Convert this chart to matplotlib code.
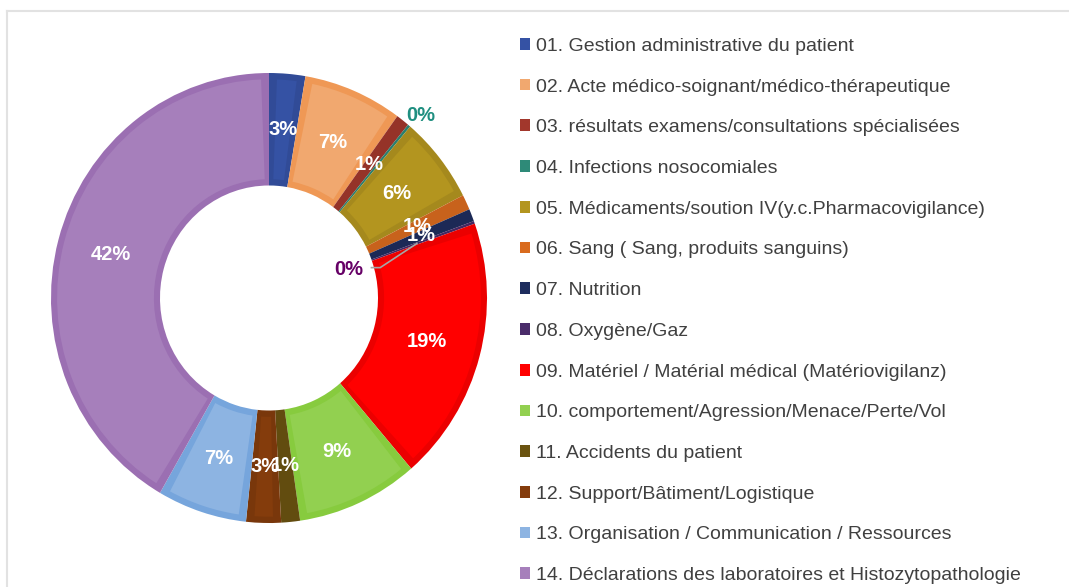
"""Donut chart: distribution of incident declarations by category."""

import colorsys

import matplotlib
matplotlib.use("Agg")
import matplotlib.pyplot as plt
from matplotlib.lines import Line2D
from matplotlib.patches import Patch, Wedge
import numpy as np

plt.rcParams["font.family"] = ["Liberation Sans", "DejaVu Sans"]

categories = [
    "01. Gestion administrative du patient",
    "02. Acte médico-soignant/médico-thérapeutique",
    "03. résultats examens/consultations spécialisées",
    "04. Infections nosocomiales",
    "05. Médicaments/soution IV(y.c.Pharmacovigilance)",
    "06. Sang ( Sang, produits sanguins)",
    "07. Nutrition",
    "08. Oxygène/Gaz",
    "09. Matériel / Matérial médical (Matériovigilanz)",
    "10. comportement/Agression/Menace/Perte/Vol",
    "11. Accidents du patient",
    "12. Support/Bâtiment/Logistique",
    "13. Organisation / Communication / Ressources",
    "14. Déclarations des laboratoires et Histozytopathologie",
]
shares = [2.7, 7.4, 1.0, 0.2, 6.3, 1.1, 0.9, 0.2, 19.2, 9.1, 1.4, 2.6, 6.7, 42.0]
colors = ["#3552A4", "#F1A86F", "#A2372C", "#2E8A78", "#B3951F", "#D96B1E",
          "#1E2D5E", "#4A2C6A", "#FF0000", "#92D050", "#6A5310", "#843C0C",
          "#8DB4E2", "#A67FBB"]


def darker(c, f=0.92):
    r, g, b = matplotlib.colors.to_rgb(c)
    h, l, s = colorsys.rgb_to_hls(r, g, b)
    return colorsys.hls_to_rgb(h, l * f, s)


fig = plt.figure(figsize=(10.69, 5.87), dpi=100)

# light frame around the chart area
fig.add_artist(Line2D([7 / 1069, 1], [1 - 11 / 587] * 2, color="#e2e2e2", lw=1.5))
fig.add_artist(Line2D([7 / 1069] * 2, [0, 1 - 11 / 587], color="#e2e2e2", lw=1.5))

# the source donut is slightly squeezed horizontally
cx, cy, rx, ry = 269, 298, 218, 225
ax = fig.add_axes([(cx - rx) / 1069, (587 - cy - ry) / 587, 2 * rx / 1069, 2 * ry / 587])

width = 0.5
wedges, _ = ax.pie(shares, colors=[darker(c) for c in colors], radius=1,
                   startangle=90, counterclock=False,
                   wedgeprops=dict(width=width, linewidth=0))
ax.set_xlim(-1, 1)
ax.set_ylim(-1, 1)
ax.set_aspect("auto")
ax.axis("off")

# lighter inner face of each segment
band = 0.028
for w, c in zip(wedges, colors):
    dth = np.degrees(band / 0.75)
    if w.theta2 - w.theta1 > 3 * dth:
        ax.add_patch(Wedge((0, 0), 1 - band, w.theta1 + dth, w.theta2 - dth,
                           width=width - 2 * band, facecolor=c, linewidth=0))

total = sum(shares)
for i, (w, v) in enumerate(zip(wedges, shares)):
    pct = f"{round(v / total * 100)}%"
    mid = np.radians((w.theta1 + w.theta2) / 2)
    if i == 3:
        ax.text(1.08 * np.cos(mid), 1.06 * np.sin(mid), pct, color="#1F8F80",
                fontsize=14.5, fontweight="bold", ha="center", va="center")
    elif i == 7:
        x0, y0 = 0.72 * np.cos(mid), 0.72 * np.sin(mid)
        ax.plot([x0, 0.51, 0.47], [y0, 0.135, 0.135], color="#a6a6a6", lw=1.2)
        ax.text(0.365, 0.125, pct, color="#660066", fontsize=14.5,
                fontweight="bold", ha="center", va="center")
    else:
        ax.text(0.75 * np.cos(mid), 0.75 * np.sin(mid), pct, color="white",
                fontsize=14.5, fontweight="bold", ha="center", va="center")

handles = [Patch(facecolor=c, edgecolor="none") for c in colors]
fig.legend(handles, categories, loc="upper left",
           bbox_to_anchor=(512 / 1069, 1 - 30 / 587), frameon=False,
           fontsize=14, labelcolor="#404040", handlelength=0.55,
           handleheight=0.55, handletextpad=0.3, labelspacing=1.22,
           borderaxespad=0)

fig.savefig("out.png", dpi=100)
